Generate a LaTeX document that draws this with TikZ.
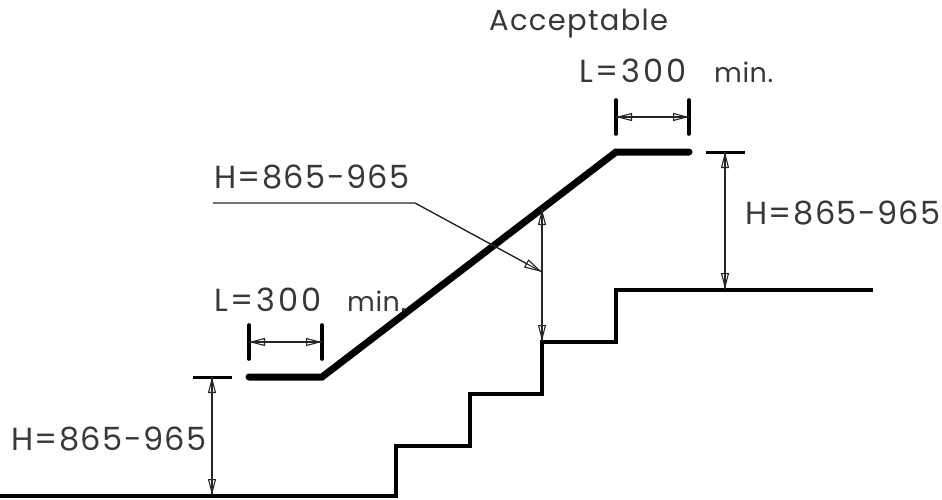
\documentclass[tikz,border=0pt]{standalone}
\usepackage{fontspec}
\setmainfont{Poppins}[LetterSpace=4.5]
\newfontfamily\wideface{Poppins}[LetterSpace=9]
\newfontfamily\tightface{Poppins}[LetterSpace=2]
\usetikzlibrary{arrows.meta}
\definecolor{txt}{gray}{0.22}
\tikzset{
  x=1pt,y=-1pt,
  floorline/.style={line width=3.6pt,line join=miter},
  railline/.style={line width=7pt,line cap=round,line join=miter},
  barline/.style={line width=3pt},
  tickline/.style={line width=3.6pt,line cap=round},
  dimline/.style={line width=1.1pt,black!85},
  dimtips/.style={line width=1.1pt,black!85,{Triangle[open,length=16pt,width=8pt]}-{Triangle[open,length=16pt,width=8pt]}},
  leaderline/.style={line width=1.1pt,black!85},
  leadertip/.style={line width=1.1pt,black!85,-{Triangle[open,length=18pt,width=9pt]}},
  lbl/.style={inner sep=0pt,anchor=base west,text=txt,font=\fontsize{32}{32}\selectfont},
  lblsmall/.style={inner sep=0pt,anchor=base west,text=txt,font=\fontsize{29}{29}\selectfont},
  lblwide/.style={inner sep=0pt,anchor=base west,text=txt,font=\fontsize{32}{32}\selectfont\wideface},
  lblmin/.style={inner sep=0pt,anchor=base west,text=txt,font=\fontsize{27}{27}\selectfont\tightface},
}
\begin{document}
\begin{tikzpicture}
\useasboundingbox (0,0) rectangle (942,500);
% floor
\coordinate (f0) at (0,496);
\coordinate (f1) at (396,496);
\coordinate (f2) at (396,446);
\coordinate (f3) at (470,446);
\coordinate (f4) at (470,394);
\coordinate (f5) at (542,394);
\coordinate (f6) at (542,342);
\coordinate (f7) at (616,342);
\coordinate (f8) at (616,290);
\coordinate (f9) at (873,290);
\draw[floorline] (f0)--(f1)--(f2)--(f3)--(f4)--(f5)--(f6)--(f7)--(f8)--(f9);
% rail
\coordinate (r0) at (249,377);
\coordinate (r1) at (322,377);
\coordinate (r2) at (616,152);
\coordinate (r3) at (689,152);
\draw[railline] (r0)--(r1)--(r2)--(r3);
% L ticks lower
\coordinate (t1a) at (249,325);
\coordinate (t1b) at (249,359);
\coordinate (t2a) at (322,325);
\coordinate (t2b) at (322,359);
\draw[tickline] (t1a)--(t1b);
\draw[tickline] (t2a)--(t2b);
\coordinate (d1a) at (249,342);
\coordinate (d1b) at (322,342);
\draw[dimline] (d1a)--(d1b);
\draw[dimtips] (d1a)--(d1b);
% L ticks upper
\coordinate (t3a) at (616,100);
\coordinate (t3b) at (616,134);
\coordinate (t4a) at (689,100);
\coordinate (t4b) at (689,134);
\draw[tickline] (t3a)--(t3b);
\draw[tickline] (t4a)--(t4b);
\coordinate (d2a) at (616,117);
\coordinate (d2b) at (689,117);
\draw[dimline] (d2a)--(d2b);
\draw[dimtips] (d2a)--(d2b);
% H left
\coordinate (b1a) at (193,377);
\coordinate (b1b) at (232,377);
\draw[barline] (b1a)--(b1b);
\coordinate (h1a) at (212,377);
\coordinate (h1b) at (212,495);
\draw[dimline] (h1a)--(h1b);
\draw[dimtips] (h1a)--(h1b);
% H right
\coordinate (b2a) at (706,152);
\coordinate (b2b) at (745,152);
\draw[barline] (b2a)--(b2b);
\coordinate (h2a) at (725,152);
\coordinate (h2b) at (725,289);
\draw[dimline] (h2a)--(h2b);
\draw[dimtips] (h2a)--(h2b);
% H centre
\coordinate (h3a) at (542,209);
\coordinate (h3b) at (542,341);
\draw[dimline] (h3a)--(h3b);
\draw[dimtips] (h3a)--(h3b);
% leader
\coordinate (l0) at (213,203);
\coordinate (l1) at (415,203);
\coordinate (l2) at (542,272);
\draw[leaderline] (l0)--(l1)--(l2);
\draw[leadertip] (l1)--(l2);
% labels
\node[lblsmall] (acc) at (489,31) {Acceptable};
\node[lblwide] (lu) at (579,83) {L=300};
\node[lblmin] (mu) at (714,83) {min.};
\node[lbl] (hc) at (214,188) {H=865-965};
\node[lbl] (hr) at (745,224) {H=865-965};
\node[lblwide] (ll) at (214,311) {L=300};
\node[lblmin] (ml) at (347,311) {min.};
\node[lbl] (hl) at (11,450) {H=865-965};
\end{tikzpicture}
\end{document}
